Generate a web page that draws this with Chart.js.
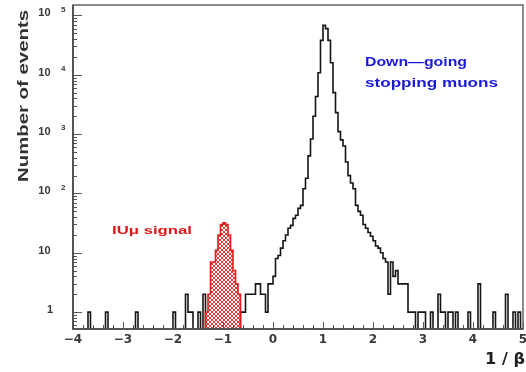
<!DOCTYPE html>
<html><head><meta charset="utf-8">
<script src="https://cdn.jsdelivr.net/npm/chart.js@4.4.1/dist/chart.umd.min.js"></script>
<style>html,body{margin:0;padding:0;background:#fff}</style>
</head><body>
<canvas id="c" width="526" height="372"></canvas>
<script>
// ---- data ----
const binWidth = 0.05;
const xMin = -4, xMax = 5;
const yMin = 0.52, yMax = 1.5e5;

// black histogram (down-going stopping muons + background), non-empty bins: bin lower edge / counts
const muonBinStarts = [-3.70,-3.35,-2.75,-2.00,-1.75,-1.70,-1.65,-1.50,-1.40,
  -0.65,-0.60,-0.55,-0.50,-0.45,-0.40,-0.35,-0.30,-0.25,-0.20,-0.15,-0.10,-0.05,
  0.00,0.05,0.10,0.15,0.20,0.25,0.30,0.35,0.40,0.45,0.50,0.55,0.60,0.65,0.70,0.75,0.80,0.85,0.90,0.95,
  1.00,1.05,1.10,1.15,1.20,1.25,1.30,1.35,1.40,1.45,1.50,1.55,1.60,1.65,1.70,1.75,1.80,1.85,1.90,1.95,
  2.00,2.05,2.10,2.15,2.20,2.25,2.30,2.35,2.40,2.45,2.50,2.55,2.60,2.65,2.70,2.75,2.80,2.90,2.95,
  3.00,3.15,3.30,3.35,3.40,3.50,3.55,3.65,3.90,4.10,4.40,4.65,4.80,4.90];
const muonCounts = [1,1,1,1,2,1,1,1,2,
  1,1,2,2,2,2,3,3,2,2,1,3,3,
  4,8,9,12,16,20,26,29,38,43,56,63,120,180,430,830,2000,4300,10800,38000,
  68000,60000,38000,16000,5000,2300,1100,800,630,340,200,150,120,63,50,43,30,26,22,19,
  16,13,12,10,8,7,2,7,4,5,3,3,3,3,1,1,1,1,1,
  1,1,2,1,1,1,1,1,1,3,1,2,1,1];

// red hatched histogram (signal)
const signalBinStarts = [-1.35,-1.30,-1.25,-1.20,-1.15,-1.10,-1.05,-1.00,-0.95,-0.90,-0.85,-0.80,-0.75,-0.70];
const signalCounts    = [1,2,7,7,11,20,30,32,30,20,11,5,3,2];

const xTickValues = [-4,-3,-2,-1,0,1,2,3,4,5];
const xTickLabels = ['\u22124','\u22123','\u22122','\u22121','0','1','2','3','4','5'];
const yTickValues = [1,10,100,1000,10000,100000];
const yTickBases  = ['1','10','10','10','10','10'];
const yTickExps   = ['','','2','3','4','5'];

const xTitle = '1 / \u03b2';
const yTitle = 'Number of events';
const label1 = 'Down\u2014going';
const label2 = 'stopping muons';
const label3 = 'IU\u03bc signal';

// ---- build step data ----
const EMPTY = 1e-3;
function histPoints(starts, counts, lo, hi) {
  const n = Math.round((hi - lo) / binWidth);
  const arr = new Array(n).fill(0);
  starts.forEach((s, k) => {
    const i = Math.round((s - lo) / binWidth);
    if (i >= 0 && i < n) arr[i] = counts[k];
  });
  const pts = arr.map((c, i) => ({x: +(lo + i * binWidth).toFixed(3), y: c > 0 ? c : EMPTY}));
  pts.push({x: hi, y: pts[pts.length - 1].y});
  return pts;
}

const pc = document.createElement('canvas');
pc.width = 4; pc.height = 4;
const pctx = pc.getContext('2d');
pctx.fillStyle = 'rgba(228,30,30,0.9)';
for (let i = 0; i < 4; i++) { pctx.fillRect(i, i, 1, 1); pctx.fillRect(3 - i, i, 1, 1); }
const hatch = pctx.createPattern(pc, 'repeat');

function fitText(ctx, text, x, y, w, font, color, align) {
  ctx.save();
  ctx.font = font;
  ctx.fillStyle = color;
  ctx.textBaseline = 'alphabetic';
  ctx.textAlign = 'left';
  const m = ctx.measureText(text).width;
  const sx = w / m;
  ctx.translate(x, y);
  ctx.scale(sx, 1);
  ctx.fillText(text, align === 'center' ? -m / 2 : 0, 0);
  ctx.restore();
}

const decor = {
  id: 'decor',
  afterDatasetsDraw(chart) {
    const ctx = chart.ctx, a = chart.chartArea, xs = chart.scales.x, ys = chart.scales.y;
    ctx.save();
    // inward ticks
    ctx.strokeStyle = '#555';
    ctx.lineWidth = 1;
    ctx.beginPath();
    for (let e = -1; e <= 5; e++) {
      for (let m = 1; m <= 9; m++) {
        const v = m * Math.pow(10, e);
        if (v < yMin || v > yMax) continue;
        const py = Math.round(ys.getPixelForValue(v)) + 0.5;
        const len = m === 1 ? 9 : 4;
        ctx.moveTo(a.left, py); ctx.lineTo(a.left + len, py);
      }
    }
    for (let k = 0; k <= 45; k++) {
      const v = xMin + k * 0.2;
      const px = Math.round(xs.getPixelForValue(v)) + 0.5;
      const len = (k % 5 === 0) ? 7 : 4;
      ctx.moveTo(px, a.bottom); ctx.lineTo(px, a.bottom - len);
    }
    ctx.stroke();
    // frame
    ctx.strokeStyle = '#666';
    ctx.lineWidth = 1.5;
    ctx.strokeRect(a.left, a.top, a.right - a.left, a.bottom - a.top);
    ctx.strokeStyle = '#444';
    ctx.beginPath(); ctx.moveTo(a.left, a.top); ctx.lineTo(a.left, a.bottom); ctx.lineTo(a.right, a.bottom); ctx.stroke();

    // x tick labels
    ctx.fillStyle = '#383838';
    ctx.font = 'bold 12px "DejaVu Sans"';
    ctx.textAlign = 'center';
    ctx.textBaseline = 'middle';
    xTickValues.forEach((v, i) => {
      ctx.fillText(xTickLabels[i], xs.getPixelForValue(v), a.bottom + 11);
    });
    // y tick labels
    yTickValues.forEach((v, i) => {
      const py = ys.getPixelForValue(v) - 2;
      ctx.font = 'bold 11px "Liberation Sans"';
      ctx.textAlign = 'right';
      ctx.textBaseline = 'middle';
      ctx.fillText(yTickBases[i], yTickBases[i] === '1' ? 53 : 50.5, py);
      if (yTickExps[i]) {
        ctx.font = 'bold 8px "Liberation Sans"';
        ctx.textAlign = 'left';
        ctx.fillText(yTickExps[i], 61, py - 4);
      }
    });
    ctx.restore();

    // axis titles
    fitText(ctx, xTitle, 485, 364, 40, 'bold 15px "DejaVu Sans"', '#222');
    ctx.save();
    ctx.translate(28, 96);
    ctx.rotate(-Math.PI / 2);
    fitText(ctx, yTitle, 0, 0, 172, 'bold 15px "Liberation Sans"', '#333', 'center');
    ctx.restore();

    // annotations
    fitText(ctx, label1, 365, 66, 102, 'bold 12px "Liberation Sans"', '#1a1ad8');
    fitText(ctx, label2, 365, 87, 133, 'bold 12px "Liberation Sans"', '#1a1ad8');
    fitText(ctx, label3, 112, 234, 80, 'bold 11px "Liberation Sans"', '#e01818');
  }
};

new Chart(document.getElementById('c'), {
  type: 'line',
  data: {
    datasets: [
      {
        label: 'signal',
        data: histPoints(signalBinStarts, signalCounts, -1.40, -0.60),
        stepped: true,
        borderColor: '#e41c1c',
        borderWidth: 1.6,
        backgroundColor: hatch,
        fill: 'start',
        pointRadius: 0
      },
      {
        label: 'muons',
        data: histPoints(muonBinStarts, muonCounts, xMin, xMax),
        stepped: true,
        borderColor: '#151515',
        borderWidth: 1.6,
        fill: false,
        pointRadius: 0
      }
    ]
  },
  options: {
    responsive: false,
    animation: false,
    devicePixelRatio: 1,
    layout: {padding: {left: 73, right: 3, top: 5, bottom: 43}},
    plugins: {legend: {display: false}, tooltip: {enabled: false}},
    scales: {
      x: {type: 'linear', min: xMin, max: xMax, display: false},
      y: {type: 'logarithmic', min: yMin, max: yMax, display: false}
    },
    elements: {line: {tension: 0}, point: {radius: 0}}
  },
  plugins: [decor]
});
</script>
</body></html>
